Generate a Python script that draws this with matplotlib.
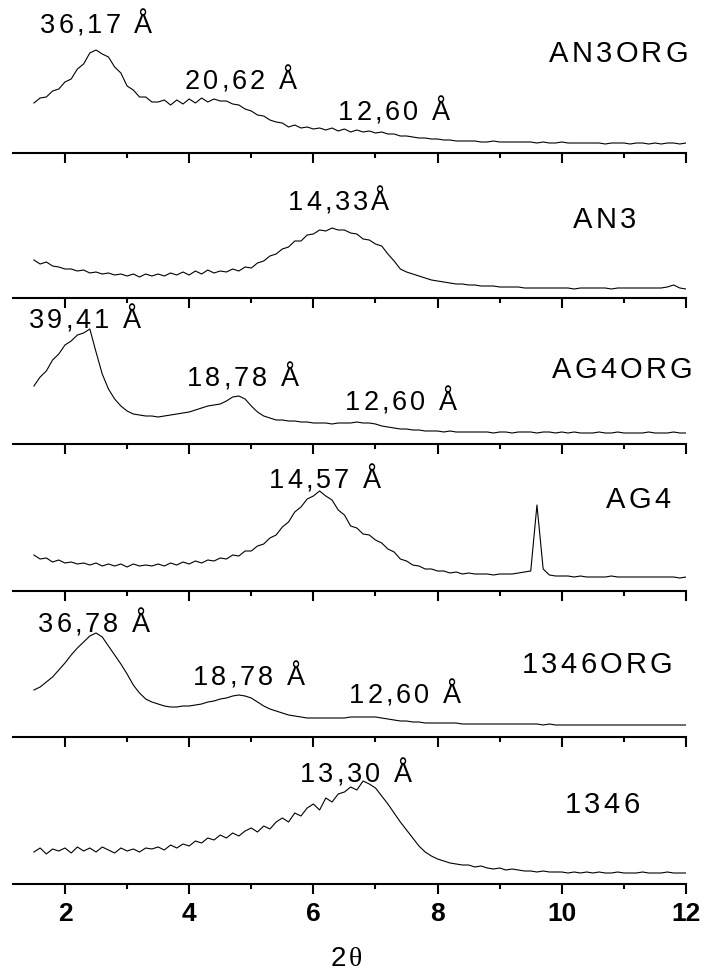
import numpy as np
import matplotlib.pyplot as plt

plt.rcParams['font.family'] = ['Liberation Sans', 'DejaVu Sans']

W, H = 702, 975

# 2-theta grid (deg) and intensities (a.u.)
two_theta = np.round(np.arange(1.5, 12.0001, 0.1), 2)

an3org = [50, 55, 56, 62, 64, 71, 74, 84, 89, 100,
          103, 99, 96, 86, 80, 67, 63, 56, 56, 51,
          51, 53, 48, 53, 49, 54, 50, 55, 51, 54,
          52, 52, 49, 48, 44, 42, 38, 37, 33, 31,
          30, 26, 28, 25, 26, 24, 25, 23, 25, 22,
          24, 21, 23, 21, 22, 20, 21, 19, 19, 17,
          17, 16, 15, 15, 14, 14, 13, 13, 12, 12,
          12, 12, 11, 11, 12, 11, 11, 11, 11, 11,
          11, 10, 11, 10, 10, 11, 10, 10, 10, 10,
          10, 10, 9, 10, 10, 10, 9, 10, 10, 9,
          10, 9, 10, 10, 9, 10]

an3 = [38, 34, 36, 32, 31, 29, 29, 27, 28, 25,
       26, 24, 25, 23, 24, 22, 24, 21, 24, 22,
       24, 22, 25, 23, 26, 23, 27, 24, 28, 25,
       27, 26, 29, 27, 31, 30, 35, 37, 42, 44,
       49, 51, 57, 57, 63, 64, 68, 67, 70, 68,
       68, 65, 64, 59, 58, 54, 52, 44, 37,
       29, 26, 24, 22, 20, 18, 17, 16, 15, 14, 14,
       13, 13, 12, 12, 12, 11, 11, 11, 11, 10,
       10, 10, 10, 10, 10, 10, 10, 9, 10, 10,
       10, 10, 10, 9, 10, 10, 10, 10, 10, 10,
       10, 10, 11, 13, 10, 9]

ag4org = [58, 67, 73, 84, 90, 99, 103, 109, 111, 115,
          92, 70, 55, 45, 38, 33, 30, 29, 28, 28,
          27, 28, 29, 30, 31, 32, 34, 36, 38, 39,
          40, 43, 47, 48, 45, 38, 32, 28, 26, 24,
          24, 23, 23, 22, 22, 21, 21, 21, 20, 21,
          21, 21, 22, 21, 21, 20, 18, 17, 16, 15,
          15, 14, 14, 13, 13, 13, 12, 13, 12, 12,
          12, 12, 12, 12, 11, 12, 12, 11, 12, 12,
          12, 11, 12, 12, 11, 12, 11, 12, 11, 11,
          11, 12, 11, 11, 12, 11, 11, 11, 11, 12,
          11, 11, 11, 12, 11, 11]

ag4 = [36, 32, 33, 29, 31, 28, 29, 27, 28, 26,
       28, 25, 27, 25, 27, 24, 27, 25, 26, 25,
       27, 25, 28, 26, 29, 27, 30, 28, 31, 30,
       33, 32, 36, 35, 40, 40, 45, 47, 53, 56,
       64, 69, 79, 84, 92, 95, 100, 95, 91, 81,
       76, 65, 63, 57, 56, 51, 48, 42, 39, 32,
       30, 26, 25, 22, 22, 20, 20, 18, 19, 17,
       18, 17, 17, 17, 16, 17, 17, 17, 18, 19,
       20, 86, 22, 16, 15, 15, 15, 14, 15, 14,
       14, 14, 14, 15, 14, 14, 14, 14, 14, 14,
       14, 14, 14, 14, 13, 14]

s1346org = [47, 50, 55, 60, 67, 74, 82, 89, 95, 101,
            104, 100, 91, 82, 73, 63, 52, 44, 38, 35,
            33, 31, 30, 30, 31, 31, 32, 33, 35, 36,
            38, 39, 41, 42, 41, 39, 35, 31, 28, 26,
            24, 22, 21, 20, 19, 19, 19, 19, 19, 19,
            19, 20, 20, 20, 20, 20, 19, 18, 17, 16,
            16, 15, 15, 14, 14, 14, 14, 14, 14, 13,
            13, 13, 13, 13, 13, 13, 13, 13, 13, 13,
            13, 13, 12, 13, 12, 12, 12, 12, 12, 12,
            12, 12, 12, 12, 12, 12, 12, 12, 12, 12,
            12, 12, 12, 12, 12, 12]

s1346 = [32, 36, 30, 35, 33, 36, 31, 37, 33, 36,
         32, 37, 34, 31, 36, 33, 35, 32, 36, 35,
         37, 34, 39, 36, 40, 38, 43, 41, 46, 44,
         49, 46, 51, 48, 53, 56, 52, 58, 55, 62,
         66, 62, 71, 68, 76, 80, 74, 86, 82, 90,
         92, 97, 94, 103, 100, 96, 88, 80, 71, 62,
         54, 46, 38, 32, 28, 25, 23, 21, 20, 19,
         19, 17, 18, 16, 15, 16, 14, 15, 14, 13,
         13, 12, 13, 12, 12, 12, 11, 12, 11, 12,
         11, 12, 11, 11, 12, 11, 11, 11, 12, 11,
         11, 11, 12, 11, 11, 11]

samples = ["AN3ORG", "AN3", "AG4ORG", "AG4", "1346ORG", "1346"]
patterns = [an3org, an3, ag4org, ag4, s1346org, s1346]

peak_texts = [["36,17 Å", "20,62 Å", "12,60 Å"],
              ["14,33Å"],
              ["39,41 Å", "18,78 Å", "12,60 Å"],
              ["14,57 Å"],
              ["36,78 Å", "18,78 Å", "12,60 Å"],
              ["13,30 Å"]]

# layout in pixels (left x, baseline y)
spine_px = [153, 298, 444, 591, 737, 884]
panel_h = 146
peak_pos = [[(40, 33), (185, 89), (338, 120)],
            [(288, 210)],
            [(29, 328), (187, 386), (345, 410)],
            [(269, 488)],
            [(38, 632), (193, 685), (349, 703)],
            [(300, 782)]]
name_pos = [(549, 62), (573, 228), (552, 378), (606, 508), (522, 673), (565, 813)]


def spaced_text(fig, s, left, base, size=19.5, gap=3.0):
    # draw text char by char to get the wide letter spacing
    r = fig.canvas.get_renderer()
    x = left
    for ch in s:
        if ch == ' ':
            x += 0.278 * size * 100 / 72 + gap
            continue
        t = fig.text(x / W, 1 - base / H, ch, fontsize=size, ha='left', va='baseline')
        x += t.get_window_extent(r).width + gap


fig = plt.figure(figsize=(W / 100, H / 100), dpi=100)

for i, y in enumerate(patterns):
    ax = fig.add_axes([13 / W, 1 - spine_px[i] / H, 673 / W, panel_h / H])
    ax.patch.set_visible(False)
    ax.plot(two_theta, y, color='black', lw=0.8)
    ax.set_xlim(1.163, 12)
    ax.set_ylim(0, panel_h)
    for s in ['top', 'left', 'right']:
        ax.spines[s].set_visible(False)
    ax.spines['bottom'].set_linewidth(1.5)
    ax.set_yticks([])
    ax.set_xticks(np.arange(2, 13, 2))
    ax.set_xticks(np.arange(3, 12, 2), minor=True)
    ax.tick_params(axis='x', which='major', direction='out', length=7.2, width=1.5)
    ax.tick_params(axis='x', which='minor', direction='out', length=3.6, width=1.5)
    if i < len(patterns) - 1:
        ax.tick_params(labelbottom=False)
    else:
        ax.tick_params(axis='x', which='major', labelsize=19, pad=5.5)
        for lab in ax.get_xticklabels():
            lab.set_fontweight('bold')

for i in range(len(samples)):
    for txt, (px, py) in zip(peak_texts[i], peak_pos[i]):
        spaced_text(fig, txt, px, py)
    spaced_text(fig, samples[i], name_pos[i][0], name_pos[i][1], size=21, gap=3.2)

# x label: sans "2" and an upright serif theta
fig.text(331 / W, 1 - 966 / H, "2", fontsize=20, ha='left', va='baseline')
fig.text(349 / W, 1 - 966 / H, "θ", fontsize=20, ha='left', va='baseline',
         family=['Liberation Serif', 'DejaVu Serif'])

fig.savefig("out.png", dpi=100)
